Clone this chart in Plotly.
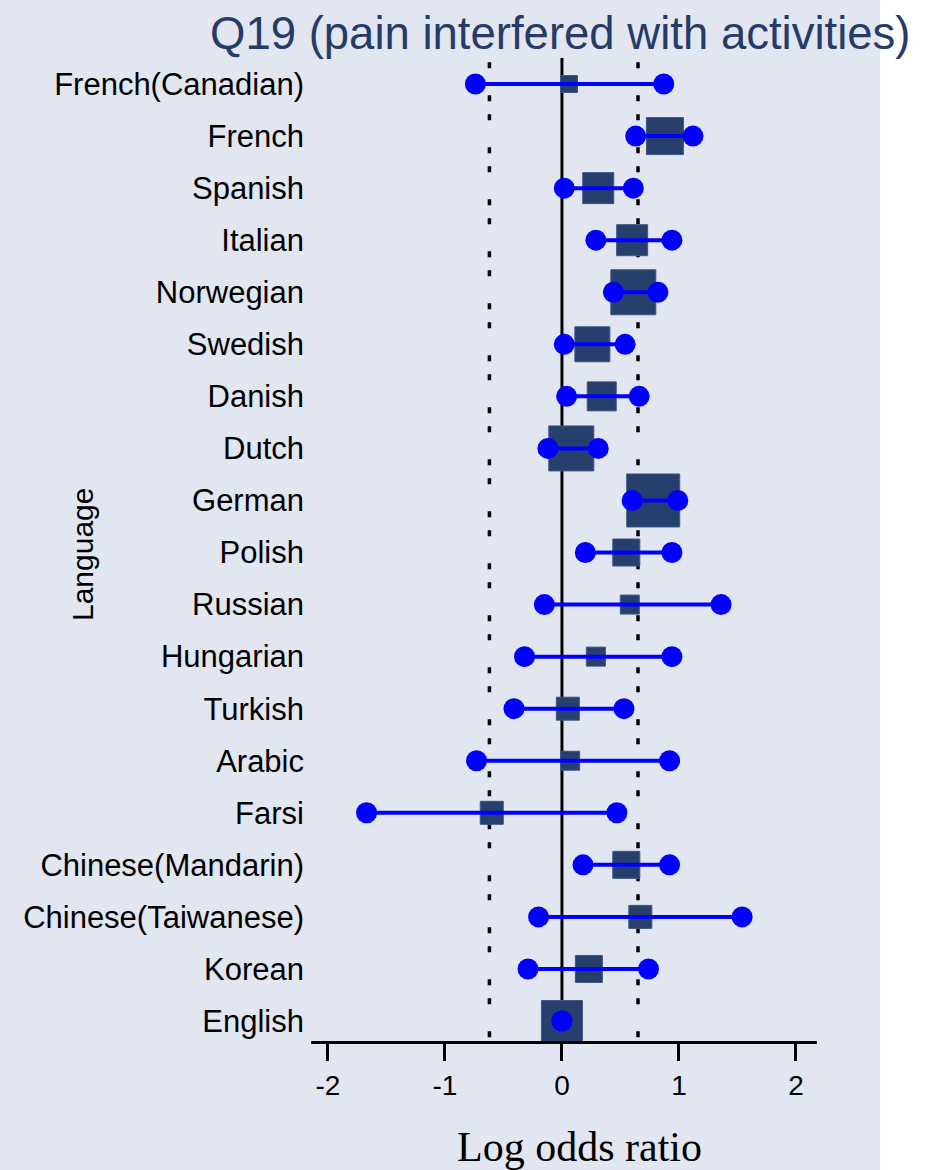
import plotly.graph_objects as go

# ---- data (top to bottom as in the chart) ----
languages = ["French(Canadian)", "French", "Spanish", "Italian", "Norwegian", "Swedish",
             "Danish", "Dutch", "German", "Polish", "Russian", "Hungarian", "Turkish",
             "Arabic", "Farsi", "Chinese(Mandarin)", "Chinese(Taiwanese)", "Korean", "English"]
estimate = [0.06, 0.88, 0.31, 0.60, 0.61, 0.26, 0.34, 0.08, 0.78, 0.55, 0.58, 0.29, 0.05,
            0.07, -0.60, 0.55, 0.67, 0.23, 0.00]
ci_low = [-0.74, 0.63, 0.02, 0.29, 0.44, 0.02, 0.04, -0.12, 0.60, 0.20, -0.15, -0.32, -0.41,
          -0.73, -1.67, 0.18, -0.20, -0.29, 0.00]
ci_high = [0.87, 1.12, 0.61, 0.94, 0.82, 0.54, 0.66, 0.31, 0.99, 0.94, 1.36, 0.94, 0.53,
           0.92, 0.47, 0.92, 1.54, 0.74, 0.00]
weight = [1.7, 3.7, 3.1, 3.1, 4.5, 3.5, 2.9, 4.5, 5.3, 2.7, 1.9, 1.9, 2.3, 1.9, 2.3, 2.7,
          2.3, 2.7, 4.1]
threshold_low = -0.62
threshold_high = 0.65
x_ticks = [-2, -1, 0, 1, 2]

BG = "#E1E6F1"
NAVY = "#273F6D"
BLUE = "#0000FF"

W, H = 931, 1170
ML, MR, MT, MB = 311, 114, 58, 129
PW, PH = W - ML - MR, H - MT - MB

fig = go.Figure()

# reference lines
ytop, ybot = 18.5, -0.384
for t in (threshold_low, threshold_high):
    fig.add_trace(go.Scatter(x=[t, t], y=[18.42, ybot], mode="lines",
                             line=dict(color="black", width=3.5, dash="6px,27px,6px,13px"),
                             hoverinfo="skip", showlegend=False))
fig.add_trace(go.Scatter(x=[0, 0], y=[ytop, ybot], mode="lines",
                         line=dict(color="black", width=3), hoverinfo="skip", showlegend=False))

ypos = list(range(len(languages) - 1, -1, -1))

# weight squares
fig.add_trace(go.Scatter(x=estimate, y=ypos, mode="markers",
                         marker=dict(symbol="square", size=[w * 10 for w in weight], color=NAVY,
                                     opacity=1, line=dict(color="#3E5584", width=1)),
                         showlegend=False))

# CI lines
for lo, hi, y in zip(ci_low, ci_high, ypos):
    if hi > lo:
        fig.add_trace(go.Scatter(x=[lo, hi], y=[y, y], mode="lines",
                                 line=dict(color=BLUE, width=4), showlegend=False,
                                 hoverinfo="skip"))

# CI endpoints
fig.add_trace(go.Scatter(x=ci_low + ci_high, y=ypos + ypos, mode="markers",
                         marker=dict(symbol="circle", size=21, color=BLUE, opacity=1),
                         showlegend=False))

# background panel (covers left 880 px)
fig.add_shape(type="rect", xref="paper", yref="paper",
              x0=-ML / PW, x1=(880 - ML) / PW, y0=-MB / PH, y1=1 + MT / PH,
              fillcolor=BG, line=dict(width=0), layer="below")

fig.update_layout(
    width=W, height=H,
    margin=dict(l=ML, r=MR, t=MT, b=MB, pad=0),
    paper_bgcolor="white", plot_bgcolor="rgba(0,0,0,0)",
    font=dict(family="Liberation Sans, Arial, sans-serif", color="black"),
    showlegend=False,
    xaxis=dict(range=[-2.145, 2.18], tickvals=x_ticks, ticktext=[str(v) for v in x_ticks],
               showgrid=False, zeroline=False, showline=True, linecolor="black", linewidth=3,
               ticks="outside", ticklen=17, tickwidth=3, tickcolor="black",
               tickfont=dict(size=28, color="black")),
    yaxis=dict(range=[ybot, ytop], tickvals=ypos, ticktext=languages,
               showgrid=False, zeroline=False, showline=False, ticks="",
               tickfont=dict(size=31, color="black"), ticklabelstandoff=6),
    annotations=[
        dict(text="Q19 (pain interfered with activities)", xref="paper", yref="paper",
             x=(560 - ML) / PW, y=(H - MB - 34) / PH, xanchor="center", yanchor="middle",
             showarrow=False, font=dict(size=45.5, color="#263B68",
                                        family="Liberation Sans, Arial, sans-serif")),
        dict(text="Language", xref="paper", yref="paper", x=(82 - ML) / PW,
             y=(H - MB - 555) / PH, textangle=-90, xanchor="center", yanchor="middle",
             showarrow=False, font=dict(size=30, color="black")),
        dict(text="Log odds ratio", xref="paper", yref="paper", x=(579 - ML) / PW,
             y=(H - MB - 1147) / PH, xanchor="center", yanchor="middle", showarrow=False,
             font=dict(size=42, color="black",
                       family="Liberation Serif, Times New Roman, serif")),
    ],
)

fig.write_html("out.html", config={"displayModeBar": False},
               post_script="document.body.style.margin='0';")
